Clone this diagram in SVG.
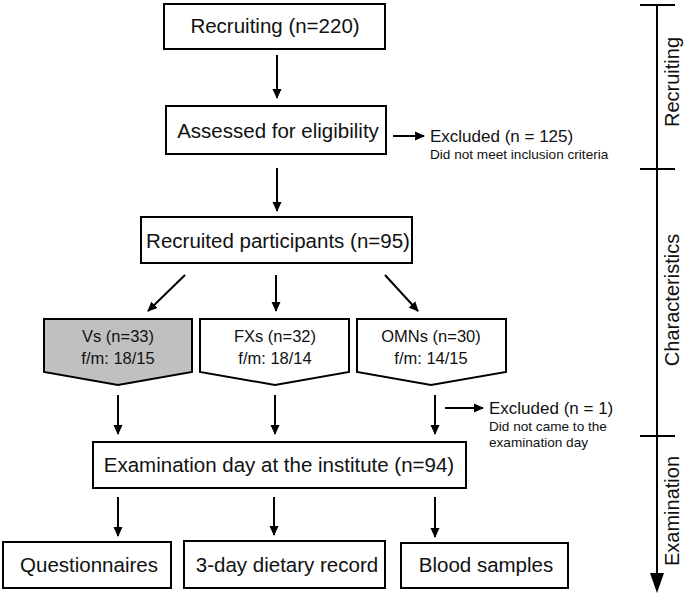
<svg xmlns="http://www.w3.org/2000/svg" width="685" height="596" viewBox="0 0 685 596">
<defs>
<marker id="ah" viewBox="0 0 10 10" refX="9" refY="5" markerWidth="10" markerHeight="10" markerUnits="userSpaceOnUse" orient="auto"><path d="M0,0.5 L10,5 L0,9.5 z" fill="#000"/></marker>
</defs>
<style>
.box{fill:#fff;stroke:#000;stroke-width:2}
.gray{fill:#c0c0c0;stroke:#000;stroke-width:2}
.t{font-family:"Liberation Sans",Arial,sans-serif;fill:#111}
.big{font-size:20.5px}
.mid{font-size:16.5px}
.ex{font-size:17px}
.sm{font-size:13.6px}
.side{font-size:20px}
.c{stroke:#000;stroke-width:2;fill:none}
</style>
<rect width="685" height="596" fill="#fff"/>
<g id="connectors">
<line class="c" x1="277" y1="55" x2="277" y2="98" marker-end="url(#ah)"/>
<line class="c" x1="393" y1="136" x2="424" y2="136" marker-end="url(#ah)"/>
<line class="c" x1="277" y1="168" x2="277" y2="211" marker-end="url(#ah)"/>
<line class="c" x1="185" y1="275" x2="148" y2="311" marker-end="url(#ah)"/>
<line class="c" x1="276" y1="275" x2="276" y2="311" marker-end="url(#ah)"/>
<line class="c" x1="385" y1="275" x2="418" y2="311" marker-end="url(#ah)"/>
<line class="c" x1="118" y1="395" x2="118" y2="434" marker-end="url(#ah)"/>
<line class="c" x1="275" y1="395" x2="275" y2="434" marker-end="url(#ah)"/>
<line class="c" x1="435" y1="395" x2="435" y2="434" marker-end="url(#ah)"/>
<line class="c" x1="445" y1="408" x2="483" y2="408" marker-end="url(#ah)"/>
<line class="c" x1="118" y1="497" x2="118" y2="536" marker-end="url(#ah)"/>
<line class="c" x1="274" y1="497" x2="274" y2="535" marker-end="url(#ah)"/>
<line class="c" x1="435" y1="497" x2="435" y2="537" marker-end="url(#ah)"/>
</g>
<g id="recruiting">
<rect class="box" x="164" y="4" width="221" height="45"/>
<text class="t big" x="275" y="33" text-anchor="middle">Recruiting (n=220)</text>
</g>
<g id="assessed">
<rect class="box" x="166" y="106" width="220" height="48"/>
<text class="t big" x="278" y="138" text-anchor="middle">Assessed for eligibility</text>
</g>
<g id="excluded1">
<text class="t ex" x="430" y="142">Excluded (n = 125)</text>
<text class="t sm" x="430" y="159">Did not meet inclusion criteria</text>
</g>
<g id="recruited">
<rect class="box" x="141" y="217" width="271" height="46"/>
<text class="t big" x="278" y="248" text-anchor="middle">Recruited participants (n=95)</text>
</g>
<g id="vs">
<path class="gray" d="M44,319 H192 V372 L118,385 L44,372 Z"/>
<text class="t mid" x="118" y="342" text-anchor="middle">Vs (n=33)</text>
<text class="t mid" x="118" y="364" text-anchor="middle">f/m: 18/15</text>
</g>
<g id="fxs">
<path class="box" d="M200,319 H349 V372 L275,385 L200,372 Z"/>
<text class="t mid" x="275" y="342" text-anchor="middle">FXs (n=32)</text>
<text class="t mid" x="275" y="364" text-anchor="middle">f/m: 18/14</text>
</g>
<g id="omns">
<path class="box" d="M357,319 H506 V372 L431,385 L357,372 Z"/>
<text class="t mid" x="431" y="342" text-anchor="middle">OMNs (n=30)</text>
<text class="t mid" x="431" y="364" text-anchor="middle">f/m: 14/15</text>
</g>
<g id="excluded2">
<text class="t ex" x="489" y="414">Excluded (n = 1)</text>
<text class="t sm" x="489" y="431">Did not came to the</text>
<text class="t sm" x="489" y="447">examination day</text>
</g>
<g id="examination">
<rect class="box" x="93" y="442" width="373" height="46"/>
<text class="t big" x="279" y="472" text-anchor="middle">Examination day at the institute (n=94)</text>
</g>
<g id="questionnaires">
<rect class="box" x="3" y="542" width="168" height="46"/>
<text class="t big" x="89" y="572" text-anchor="middle">Questionnaires</text>
</g>
<g id="dietary">
<rect class="box" x="184" y="541" width="201" height="47"/>
<text class="t big" x="287" y="572" text-anchor="middle">3-day dietary record</text>
</g>
<g id="blood">
<rect class="box" x="401" y="543" width="167" height="45"/>
<text class="t big" x="486" y="572" text-anchor="middle">Blood samples</text>
</g>
<g id="timeline">
<line class="c" x1="657" y1="5" x2="657" y2="576"/>
<polygon points="650,573 664,573 657,593" fill="#000"/>
<line class="c" x1="640" y1="5" x2="675" y2="5"/>
<line class="c" x1="640" y1="169" x2="675" y2="169"/>
<line class="c" x1="640" y1="436" x2="675" y2="436"/>
<text class="t side" transform="translate(679,82) rotate(-90)" text-anchor="middle">Recruiting</text>
<text class="t side" transform="translate(679,300) rotate(-90)" text-anchor="middle">Characteristics</text>
<text class="t side" transform="translate(679,511) rotate(-90)" text-anchor="middle">Examination</text>
</g>
</svg>
